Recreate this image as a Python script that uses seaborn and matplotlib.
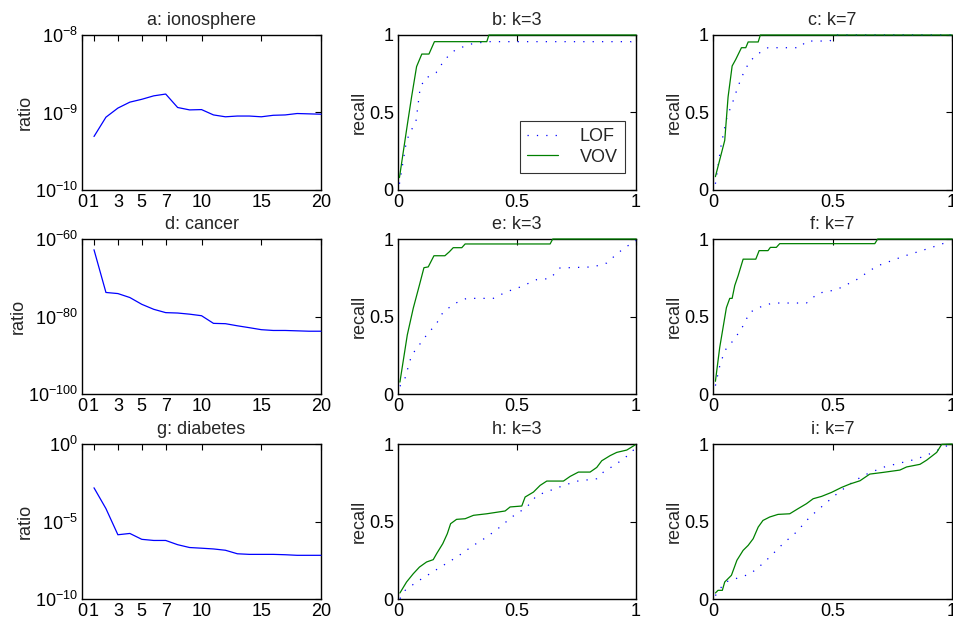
"""Ratio and recall curves for ionosphere / cancer / diabetes (MATLAB-style grid)."""

import math

import matplotlib
matplotlib.use("Agg")
import matplotlib.pyplot as plt
import pandas as pd
import seaborn as sns
from matplotlib.ticker import FixedLocator, FuncFormatter, NullLocator

# ---- data ----
ks = list(range(1, 21))
iono_ratio = [4.9e-10, 8.7e-10, 1.14e-9, 1.36e-9, 1.48e-9, 1.64e-9, 1.73e-9, 1.16e-9,
              1.08e-9, 1.09e-9, 9.3e-10, 8.8e-10, 9.0e-10, 9.0e-10, 8.8e-10, 9.2e-10,
              9.3e-10, 9.7e-10, 9.6e-10, 9.5e-10]
cancer_ratio = [1.7e-63, 1.6e-74, 8.3e-75, 7.9e-76, 1.4e-77, 7.2e-79, 1.0e-79, 7.9e-80,
                4.0e-80, 1.6e-80, 1.7e-82, 1.4e-82, 4.0e-83, 1.3e-83, 4.0e-84, 2.5e-84,
                2.5e-84, 2.0e-84, 1.6e-84, 1.6e-84]
diabetes_ratio = [1.5e-3, 6.8e-5, 1.4e-6, 1.7e-6, 7.1e-7, 6.0e-7, 6.0e-7, 3.2e-7,
                  2.1e-7, 1.9e-7, 1.7e-7, 1.4e-7, 8.3e-8, 7.6e-8, 7.6e-8, 7.6e-8,
                  7.2e-8, 6.6e-8, 6.6e-8, 6.6e-8]

# b: ionosphere, k=3
b_vov_x = [0.006, 0.04, 0.057, 0.078, 0.10, 0.13, 0.153, 0.373, 0.382, 1.0]
b_vov_y = [0.08, 0.43, 0.60, 0.796, 0.877, 0.877, 0.957, 0.957, 1.0, 1.0]
b_lof_x = [0.006, 0.036, 0.076, 0.092, 0.11, 0.16, 0.197, 0.24, 0.30, 0.373, 0.98, 1.0]
b_lof_y = [0.04, 0.32, 0.45, 0.645, 0.716, 0.757, 0.843, 0.903, 0.94, 0.957, 0.957, 0.978]

# c: ionosphere, k=7
c_vov_x = [0.01, 0.049, 0.063, 0.08, 0.095, 0.119, 0.137, 0.147, 0.189, 0.198, 1.0]
c_vov_y = [0.086, 0.32, 0.60, 0.80, 0.842, 0.918, 0.918, 0.955, 0.955, 1.0, 1.0]
c_lof_x = [0.01, 0.035, 0.059, 0.081, 0.105, 0.128, 0.154, 0.196, 0.23, 0.363, 0.391,
           0.489, 0.517, 1.0]
c_lof_y = [0.04, 0.30, 0.475, 0.56, 0.67, 0.756, 0.832, 0.886, 0.918, 0.918, 0.961,
           0.961, 1.0, 1.0]

# e: cancer, k=3
e_vov_x = [0.008, 0.039, 0.064, 0.09, 0.109, 0.127, 0.151, 0.197, 0.216, 0.232, 0.268,
           0.282, 0.639, 0.65, 1.0]
e_vov_y = [0.077, 0.381, 0.553, 0.703, 0.815, 0.82, 0.892, 0.892, 0.918, 0.944, 0.944,
           0.968, 0.968, 1.0, 1.0]
e_lof_x = [0.008, 0.029, 0.057, 0.12, 0.162, 0.19, 0.24, 0.288, 0.40, 0.457, 0.513,
           0.583, 0.639, 0.68, 0.82, 0.877, 0.905, 0.947, 1.0]
e_lof_y = [0.05, 0.10, 0.25, 0.38, 0.455, 0.53, 0.585, 0.617, 0.617, 0.66, 0.69, 0.738,
           0.745, 0.813, 0.82, 0.845, 0.884, 0.938, 0.99]

# f: cancer, k=7
f_vov_x = [0.01, 0.028, 0.056, 0.07, 0.08, 0.091, 0.105, 0.126, 0.179, 0.193, 0.23,
           0.24, 0.265, 0.279, 0.677, 0.689, 1.0]
f_vov_y = [0.082, 0.30, 0.557, 0.617, 0.617, 0.70, 0.763, 0.87, 0.87, 0.925, 0.925,
           0.946, 0.946, 0.97, 0.97, 1.0, 1.0]
f_lof_x = [0.01, 0.028, 0.049, 0.084, 0.119, 0.154, 0.21, 0.251, 0.391, 0.44, 0.517,
           0.60, 0.684, 0.796, 0.908, 0.99]
f_lof_y = [0.054, 0.18, 0.28, 0.344, 0.42, 0.527, 0.57, 0.587, 0.587, 0.65, 0.673,
           0.737, 0.824, 0.888, 0.942, 0.985]

# h: diabetes, k=3
h_vov_x = [0.008, 0.036, 0.064, 0.09, 0.12, 0.148, 0.162, 0.188, 0.207, 0.221, 0.246,
           0.282, 0.317, 0.373, 0.45, 0.471, 0.52, 0.534, 0.569, 0.597, 0.625, 0.695,
           0.723, 0.758, 0.807, 0.835, 0.856, 0.891, 0.919, 0.961, 0.996]
h_vov_y = [0.039, 0.11, 0.163, 0.206, 0.239, 0.254, 0.292, 0.357, 0.421, 0.486, 0.514,
           0.518, 0.54, 0.55, 0.568, 0.594, 0.60, 0.658, 0.69, 0.733, 0.761, 0.761,
           0.791, 0.819, 0.819, 0.849, 0.892, 0.925, 0.946, 0.961, 0.994]
h_lof_x = [0.008, 0.03, 0.078, 0.134, 0.19, 0.246, 0.317, 0.373, 0.429, 0.478, 0.541,
           0.583, 0.639, 0.695, 0.75, 0.835, 0.863, 0.919, 0.975, 1.0]
h_lof_y = [0.002, 0.056, 0.11, 0.163, 0.217, 0.27, 0.346, 0.40, 0.465, 0.529, 0.593,
           0.668, 0.70, 0.732, 0.76, 0.776, 0.819, 0.873, 0.937, 0.98]

# i: diabetes, k=7
i_vov_x = [0.01, 0.021, 0.039, 0.049, 0.077, 0.10, 0.126, 0.147, 0.168, 0.189, 0.209,
           0.237, 0.272, 0.321, 0.356, 0.391, 0.419, 0.454, 0.496, 0.538, 0.573, 0.615,
           0.656, 0.712, 0.782, 0.81, 0.866, 0.894, 0.936, 0.957, 1.0]
i_vov_y = [0.039, 0.056, 0.056, 0.11, 0.153, 0.25, 0.314, 0.346, 0.389, 0.464, 0.507,
           0.529, 0.546, 0.55, 0.583, 0.615, 0.647, 0.662, 0.688, 0.72, 0.742, 0.763,
           0.806, 0.817, 0.832, 0.852, 0.869, 0.896, 0.946, 0.998, 1.0]
i_lof_x = [0.01, 0.049, 0.112, 0.154, 0.182, 0.216, 0.251, 0.293, 0.349, 0.405, 0.461,
           0.517, 0.573, 0.628, 0.712, 0.768, 0.852, 0.922, 0.964, 1.0]
i_lof_y = [0.022, 0.108, 0.14, 0.161, 0.194, 0.239, 0.292, 0.357, 0.432, 0.529, 0.604,
           0.677, 0.742, 0.796, 0.85, 0.872, 0.903, 0.946, 0.98, 1.0]

ratio_panels = [
    ("a: ionosphere", iono_ratio, (1e-10, 1e-8), [1e-10, 1e-9, 1e-8]),
    ("d: cancer", cancer_ratio, (1e-100, 1e-60), [1e-100, 1e-80, 1e-60]),
    ("g: diabetes", diabetes_ratio, (1e-10, 1e0), [1e-10, 1e-5, 1e0]),
]
recall_panels = [
    [("b: k=3", b_lof_x, b_lof_y, b_vov_x, b_vov_y),
     ("c: k=7", c_lof_x, c_lof_y, c_vov_x, c_vov_y)],
    [("e: k=3", e_lof_x, e_lof_y, e_vov_x, e_vov_y),
     ("f: k=7", f_lof_x, f_lof_y, f_vov_x, f_vov_y)],
    [("h: k=3", h_lof_x, h_lof_y, h_vov_x, h_vov_y),
     ("i: k=7", i_lof_x, i_lof_y, i_vov_x, i_vov_y)],
]

sns.set_style("white")
plt.rcParams["font.family"] = ["Liberation Sans", "DejaVu Sans"]
plt.rcParams["mathtext.default"] = "regular"

FS = 13
BLUE = "#0000ff"
GREEN = "#008000"
LOF_STYLE = (0, (1, 6.5))

fig = plt.figure(figsize=(9.54, 6.26), dpi=100)

col_left = [0.086, 0.4172, 0.7474]
col_width = [0.2505, 0.2495, 0.2505]
row_bottom = [0.6965, 0.3706, 0.0431]
row_height = 0.2476


def style_axes(ax):
    for sp in ax.spines.values():
        sp.set_color("black")
        sp.set_linewidth(1.0)
        sp.set_zorder(2)
    ax.tick_params(axis="both", which="major", direction="in", length=4, width=0.8,
                   top=True, right=True, labelsize=FS, pad=3, colors="black")
    ax.tick_params(axis="both", which="minor", length=0)
    ax.set_xlabel("")


def log_label(v, pos):
    return "$10^{%d}$" % round(math.log10(v))


for r, (title, vals, ylim, yticks) in enumerate(ratio_panels):
    ax = fig.add_axes([col_left[0], row_bottom[r], col_width[0], row_height])
    df = pd.DataFrame({"k": ks, "ratio": vals})
    sns.lineplot(data=df, x="k", y="ratio", ax=ax, color=BLUE, linewidth=0.9,
                 estimator=None, sort=False, zorder=3, clip_on=False)
    ax.set_yscale("log")
    ax.set_xlim(0, 20)
    ax.set_ylim(*ylim)
    ax.set_xticks([0, 1, 3, 5, 7, 10, 15, 20])
    ax.set_xticklabels(["0", "1", "3", "5", "7", "10", "15", "20"])
    ax.yaxis.set_major_locator(FixedLocator(yticks))
    ax.yaxis.set_minor_locator(NullLocator())
    ax.yaxis.set_major_formatter(FuncFormatter(log_label))
    ax.set_ylabel("ratio", fontsize=FS, labelpad=1)
    ax.set_title(title, fontsize=FS, pad=7)
    style_axes(ax)

for r, row in enumerate(recall_panels):
    for c, (title, lx, ly, vx, vy) in enumerate(row):
        ax = fig.add_axes([col_left[c + 1], row_bottom[r], col_width[c + 1], row_height])
        lof = pd.DataFrame({"x": lx, "y": ly})
        vov = pd.DataFrame({"x": vx, "y": vy})
        sns.lineplot(data=lof, x="x", y="y", ax=ax, color=BLUE, linewidth=0.9,
                     linestyle=LOF_STYLE, estimator=None, sort=False, label="LOF",
                     zorder=3, clip_on=False)
        sns.lineplot(data=vov, x="x", y="y", ax=ax, color=GREEN, linewidth=0.9,
                     estimator=None, sort=False, label="VOV", zorder=3, clip_on=False)
        ax.set_xlim(0, 1)
        ax.set_ylim(0, 1)
        ax.set_xticks([0, 0.5, 1])
        ax.set_xticklabels(["0", "0.5", "1"])
        ax.set_yticks([0, 0.5, 1])
        ax.set_yticklabels(["0", "0.5", "1"])
        ax.set_ylabel("recall", fontsize=FS, labelpad=1)
        ax.set_title(title, fontsize=FS, pad=7)
        style_axes(ax)
        if r == 0 and c == 0:
            leg = ax.legend(loc="lower right", bbox_to_anchor=(0.954, 0.11),
                            borderaxespad=0, frameon=True, fancybox=False,
                            fontsize=FS, handlelength=1.7, borderpad=0.4,
                            labelspacing=0.2, handletextpad=1.2)
            leg.get_frame().set_edgecolor("black")
            leg.get_frame().set_linewidth(0.8)
            leg.set_zorder(5)
        else:
            ax.get_legend().remove()

fig.savefig("out.png", dpi=100)
